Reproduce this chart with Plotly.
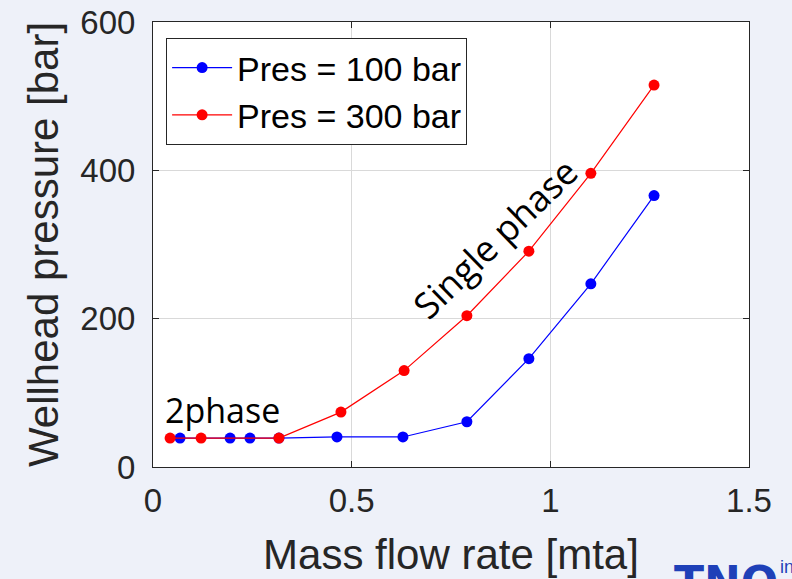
import plotly.graph_objects as go

# Data
flow_100 = [0.068, 0.194, 0.244, 0.317, 0.463, 0.629, 0.790, 0.946, 1.102, 1.261]
pres_100 = [39, 39, 39, 39, 40.5, 40.5, 61, 146, 247, 366]
flow_300 = [0.043, 0.121, 0.317, 0.473, 0.632, 0.790, 0.946, 1.102, 1.261]
pres_300 = [39, 39, 39, 74, 130, 204, 291, 396, 515]

x_ticks = [0, 0.5, 1, 1.5]
x_tick_text = ["0", "0.5", "1", "1.5"]
y_ticks = [0, 200, 400, 600]

FONT = "Liberation Sans, Arial, sans-serif"
BG = "#EEF1F9"

fig = go.Figure()
fig.add_trace(go.Scatter(
    x=flow_100, y=pres_100, mode="lines+markers", name="Pres = 100 bar",
    line=dict(color="#0000FF", width=1.2),
    marker=dict(color="#0000FF", size=11),
))
fig.add_trace(go.Scatter(
    x=flow_300, y=pres_300, mode="lines+markers", name="Pres = 300 bar",
    line=dict(color="#FF0000", width=1.2),
    marker=dict(color="#FF0000", size=11),
))

axis_common = dict(
    showline=True, linecolor="#262626", linewidth=1, mirror="ticks",
    ticks="inside", ticklen=6, tickcolor="#262626",
    showgrid=True, gridcolor="#D9D9D9", gridwidth=1,
    zeroline=False, automargin=False,
    tickfont=dict(family=FONT, size=33, color="#262626"),
)

fig.update_xaxes(
    range=[0, 1.5], tickvals=x_ticks, ticktext=x_tick_text,
    ticklabelstandoff=4,
    title=dict(text="Mass flow rate [mta]", font=dict(family=FONT, size=42, color="#262626"), standoff=22),
    **axis_common,
)
fig.update_yaxes(
    range=[0, 600], tickvals=y_ticks,
    ticklabelstandoff=10,
    title=dict(text="Wellhead pressure [bar]", font=dict(family=FONT, size=42, color="#262626"), standoff=8),
    **axis_common,
)

fig.add_annotation(
    x=0.176, y=77, xref="x", yref="y", text="2phase", showarrow=False,
    font=dict(family="Open Sans, Noto Sans, sans-serif", size=34, color="#000000"),
    xanchor="center", yanchor="middle",
)
fig.add_annotation(
    x=0.861, y=308, xref="x", yref="y", text="Single phase", showarrow=False,
    textangle=-44,
    font=dict(family="Open Sans, Noto Sans, sans-serif", size=36, color="#000000"),
    xanchor="center", yanchor="middle",
)
# partial logo text at bottom right
fig.add_annotation(
    x=0.87, y=-0.198, xref="paper", yref="paper", text="<b>TNO</b>", showarrow=False,
    font=dict(family="DejaVu Sans, sans-serif", size=44, color="#1E40B8"),
    xanchor="left", yanchor="top",
)
fig.add_annotation(
    x=1.049, y=-0.198, xref="paper", yref="paper", text="in", showarrow=False,
    font=dict(family=FONT, size=18, color="#1E40B8"),
    xanchor="left", yanchor="top",
)

fig.update_layout(
    width=792, height=579,
    margin=dict(l=153, r=43, t=22, b=112),
    paper_bgcolor=BG, plot_bgcolor="#FFFFFF",
    showlegend=True,
    legend=dict(
        x=0.022, y=0.964, xanchor="left", yanchor="top",
        bgcolor="#FFFFFF", bordercolor="#262626", borderwidth=1,
        font=dict(family=FONT, size=34, color="#000000"),
        itemwidth=60, tracegroupgap=0,
    ),
)

fig.write_html("out.html")
